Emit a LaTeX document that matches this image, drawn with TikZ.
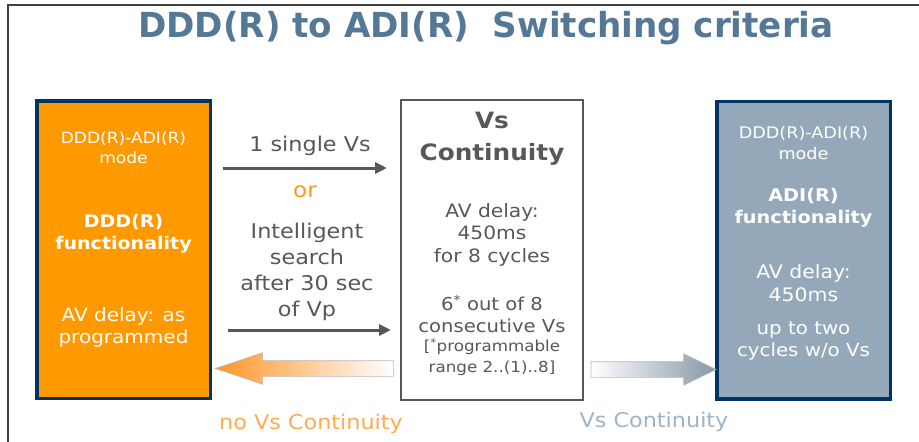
\documentclass[tikz,border=0pt]{standalone}
\usepackage{fontspec}
\setmainfont{DejaVu Sans}[FakeStretch=1.1]
\newfontfamily\headfont{DejaVu Sans Condensed}[FakeStretch=1.1]
\usetikzlibrary{arrows.meta,shapes.arrows}
\definecolor{ddorange}{RGB}{255,153,0}
\definecolor{navy}{RGB}{0,51,102}
\definecolor{adigray}{RGB}{149,168,186}
\definecolor{headblue}{RGB}{84,120,150}
\definecolor{txtgray}{RGB}{88,88,88}
\definecolor{ortext}{RGB}{255,150,40}
\definecolor{noorange}{RGB}{255,170,80}
\definecolor{vsblue}{RGB}{157,180,200}
\tikzset{
  modebox/.style={draw=navy,line width=3.5pt,inner sep=0pt,
    minimum width=173.5pt,minimum height=297.5pt},
  vsbox/.style={draw=txtgray,line width=2pt,fill=white,inner sep=0pt,
    minimum width=182pt,minimum height=300pt},
  boxtext/.style={align=center,text=white,inner sep=0pt},
  midtext/.style={align=center,text=txtgray,inner sep=0pt},
  vsarrow/.style={draw=txtgray,line width=3pt,-{Triangle[length=12pt,width=11pt]}},
  bigarrow/.style={single arrow,draw=gray!55,line width=.6pt,inner xsep=0pt,inner ysep=7.5pt,
    single arrow head extend=8pt,minimum width=31pt}
}
\begin{document}
\begin{tikzpicture}[x=1pt,y=-1pt]
\useasboundingbox (0,0) rectangle (919,442);
\draw[line width=1.3pt,black!75] (7,5) -- (919,5);
\draw[line width=1.3pt,black!75] (8,5) -- (8,442);
\node[text=headblue,font=\headfont\bfseries\fontsize{34.5}{36}\selectfont] (title) at (486,28)
  {DDD(R) to ADI(R)\ \ Switching criteria};
% the three states
\node[modebox,fill=ddorange] (ddd) at (123.5,249.5) {};
\node[vsbox] (vsc) at (492,250) {};
\node[modebox,fill=adigray] (adi) at (803.5,250) {};
% DDD(R) box
\node[boxtext,font=\fontsize{15.5}{20}\selectfont] (dddmode) at (123.5,148) {DDD(R)-ADI(R)\\mode};
\node[boxtext,font=\bfseries\fontsize{17.3}{22}\selectfont] (dddfun) at (123.5,234) {DDD(R)\\functionality};
\node[boxtext,font=\fontsize{18.2}{22}\selectfont] (dddav) at (123.5,327.5) {AV delay: as\\programmed};
% Vs continuity box
\node[midtext,font=\bfseries\fontsize{22.5}{32}\selectfont] (vshead) at (492,138.5) {Vs\\Continuity};
\node[midtext,font=\fontsize{18.4}{22.5}\selectfont] (vsav) at (492,234.5) {AV delay:\\450ms\\for 8 cycles};
\node[midtext,font=\fontsize{17.8}{22}\selectfont] (vsout) at (492,314) {6\textsuperscript{*} out of 8\\consecutive Vs};
\node[midtext,font=\fontsize{15.2}{21}\selectfont] (vsprog) at (492,357.5) {[\textsuperscript{*}programmable\\range 2..(1)..8]};
% ADI(R) box
\node[boxtext,font=\fontsize{16}{21}\selectfont] (adimode) at (803.5,143.5) {DDD(R)-ADI(R)\\mode};
\node[boxtext,font=\bfseries\fontsize{17.5}{22}\selectfont] (adifun) at (803.5,207.5) {ADI(R)\\functionality};
\node[boxtext,font=\fontsize{18.6}{23}\selectfont] (adiav) at (803.5,283.5) {AV delay:\\450ms};
\node[boxtext,font=\fontsize{18}{22}\selectfont] (adiup) at (803.5,341.5) {up to two\\cycles w/o Vs};
% switching conditions
\node[midtext,font=\fontsize{20.3}{22}\selectfont] (single) at (310,146) {1 single Vs};
\node[text=ortext,inner sep=0pt,font=\fontsize{21}{22}\selectfont] (or) at (305,192) {or};
\node[midtext,font=\fontsize{20.3}{26}\selectfont] (search) at (307,271.5) {Intelligent\\search\\after 30 sec\\of Vp};
\draw[vsarrow,shorten <=11pt,shorten >=13pt] (ddd.east |- 0,168) -- (vsc.west |- 0,168);
\draw[vsarrow,shorten <=16pt,shorten >=9pt] (ddd.east |- 0,330) -- (vsc.west |- 0,330);
% back and forth
\node[bigarrow,shape border rotate=180,single arrow tip angle=37,minimum height=178pt,
  left color=ortext,middle color=ortext!65,right color=white] (noarrow) at (316,368.5) {};
\node[bigarrow,single arrow tip angle=52,minimum height=125pt,
  left color=white,right color=adigray!90!black] (yesarrow) at (645.5,369.5) {};
\node[text=noorange,inner sep=0pt,font=\fontsize{20.3}{22}\selectfont] (novs) at (311,424) {no Vs Continuity};
\node[text=vsblue,inner sep=0pt,font=\fontsize{20.3}{22}\selectfont] (yesvs) at (654,422) {Vs Continuity};
\end{tikzpicture}
\end{document}
